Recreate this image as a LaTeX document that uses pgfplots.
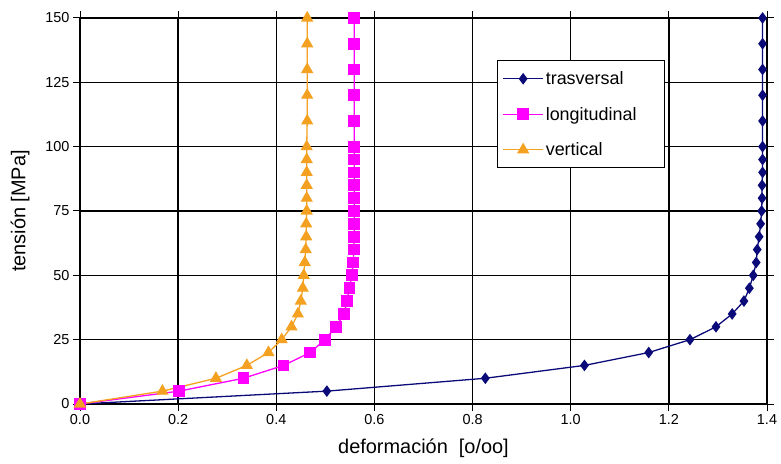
\documentclass[border=0pt]{standalone}
\usepackage{fontspec}
\setmainfont{Liberation Sans}
\usepackage{pgfplots}
\pgfplotsset{compat=1.18}
\definecolor{trasv}{HTML}{0A0A78}
\definecolor{longi}{HTML}{FF00FF}
\definecolor{verti}{HTML}{F4A020}

\begin{document}
\begin{tikzpicture}[x=1bp,y=1bp]
% frame of the whole picture, same proportions as the reference
\path[use as bounding box] (-80bp,-60bp) rectangle (701bp,404bp);
\begin{axis}[
  at={(0,0)},anchor=south west,
  scale only axis,
  width=687bp,height=386bp,
  xmin=0,xmax=1.4,ymin=0,ymax=150,
  xtick={0,0.2,...,1.4},
  ytick={0,25,...,150},
  xticklabel style={/pgf/number format/.cd,fixed,fixed zerofill,precision=1},
  /pgf/number format/assume math mode=true,
  tick label style={font=\fontsize{14.5}{16}\selectfont},
  label style={font=\fontsize{20}{24}\selectfont},
  xlabel={deformación\ \ [o/oo]},
  ylabel={tensión [MPa]},
  xlabel style={at={(axis description cs:0.5,0)},anchor=center,yshift=-44bp},
  ylabel style={at={(axis description cs:0,0.5)},anchor=center,yshift=60bp},
  grid=major,
  grid style={black,line width=1.5pt},
  axis line style={black,line width=1.5pt},
  tick align=outside,
  major tick length=7bp,
  tick style={black,line width=1pt},
  clip=false,
  legend image code/.code={\draw[mark repeat=2,mark phase=2,#1]
    plot coordinates {(0bp,0bp) (20bp,0bp) (40bp,0bp)};},
  legend style={at={(0.607,0.891)},anchor=north west,draw=black,line width=1pt,
    fill=white,font=\fontsize{18}{21}\selectfont,row sep=17bp,
    inner xsep=5bp,inner ysep=9bp},
  legend cell align=left,
]
\addplot[trasv,line width=1.3pt,mark=diamond*,mark size=4.8bp,mark options={solid}] coordinates {
(0,0) (0.503,5) (0.826,10) (1.028,15) (1.159,20) (1.243,25) (1.296,30) (1.329,35) (1.353,40)
(1.364,45) (1.372,50) (1.378,55) (1.380,60) (1.384,65) (1.387,70) (1.389,75) (1.390,80)
(1.390,85) (1.391,90) (1.391,95) (1.391,100) (1.391,110) (1.391,120) (1.391,130) (1.391,140) (1.391,150)};
\addlegendentry{trasversal}
\addplot[longi,line width=1.3pt,mark=square*,mark size=5.2bp] coordinates {
(0,0) (0.202,5) (0.333,10) (0.415,15) (0.469,20) (0.499,25) (0.522,30) (0.538,35) (0.544,40)
(0.549,45) (0.554,50) (0.557,55) (0.558,60) (0.559,65) (0.559,70) (0.559,75) (0.559,80)
(0.559,85) (0.559,90) (0.559,95) (0.559,100) (0.559,110) (0.559,120) (0.559,130) (0.559,140) (0.559,150)};
\addlegendentry{\makebox[112bp][l]{longitudinal}}
\addplot[verti,line width=1.3pt,mark=triangle*,mark size=5.8bp] coordinates {
(0,0) (0.168,5) (0.277,10) (0.340,15) (0.384,20) (0.411,25) (0.431,30) (0.444,35) (0.450,40)
(0.454,45) (0.456,50) (0.458,55) (0.460,60) (0.461,65) (0.461,70) (0.462,75) (0.462,80)
(0.462,85) (0.462,90) (0.462,95) (0.462,100) (0.463,110) (0.463,120) (0.463,130) (0.463,140) (0.463,150)};
\addlegendentry{vertical}
\end{axis}
\end{tikzpicture}
\end{document}
